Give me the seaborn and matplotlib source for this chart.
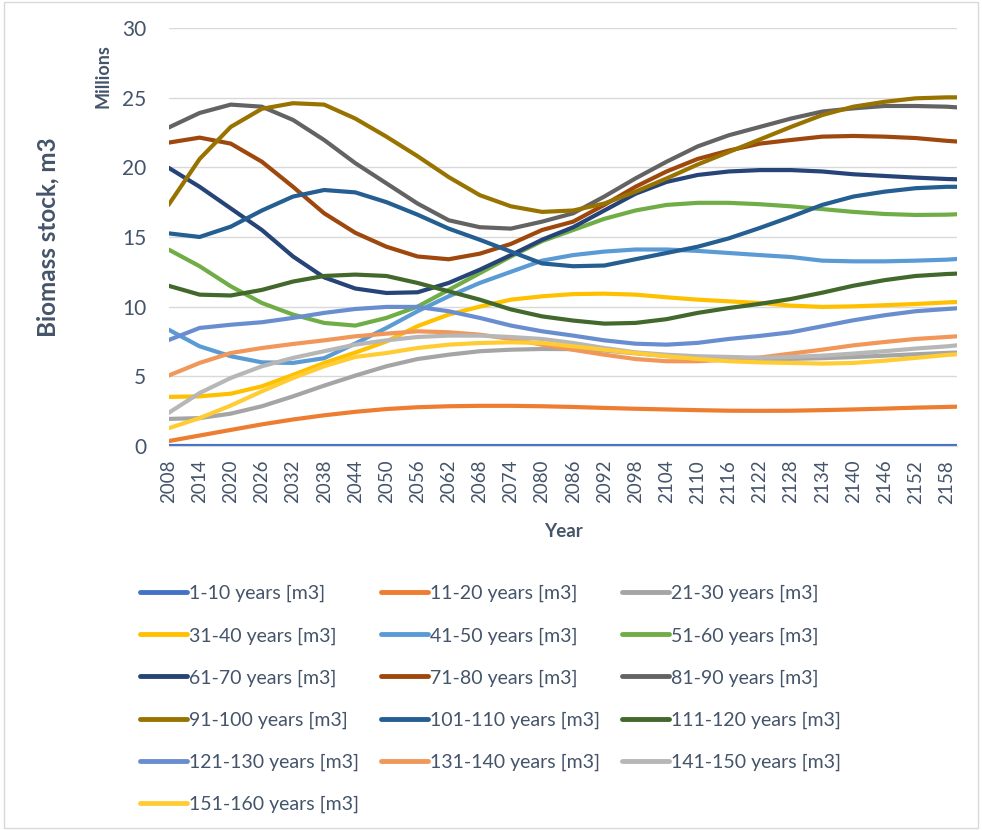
import pandas as pd
import matplotlib
matplotlib.use("Agg")
import matplotlib.pyplot as plt
import seaborn as sns
from matplotlib.lines import Line2D
from matplotlib.patches import Rectangle
from matplotlib.ticker import MultipleLocator

# Values every 6 years (millions of m3)
years = [2008, 2014, 2020, 2026, 2032, 2038, 2044, 2050, 2056, 2062, 2068, 2074, 2080, 2086,
         2092, 2098, 2104, 2110, 2116, 2122, 2128, 2134, 2140, 2146, 2152, 2158, 2160]

age_classes = ["1-10 years [m3]", "11-20 years [m3]", "21-30 years [m3]", "31-40 years [m3]",
               "41-50 years [m3]", "51-60 years [m3]", "61-70 years [m3]", "71-80 years [m3]",
               "81-90 years [m3]", "91-100 years [m3]", "101-110 years [m3]", "111-120 years [m3]",
               "121-130 years [m3]", "131-140 years [m3]", "141-150 years [m3]", "151-160 years [m3]"]

y_1_10 = [0, 0, 0, 0, 0, 0, 0, 0, 0, 0, 0, 0, 0, 0, 0, 0, 0, 0, 0, 0, 0, 0, 0, 0, 0, 0, 0]
y_11_20 = [0.35, 0.75, 1.15, 1.55, 1.9, 2.2, 2.45, 2.65, 2.78, 2.85, 2.88, 2.88, 2.85, 2.8,
           2.73, 2.67, 2.62, 2.57, 2.53, 2.52, 2.53, 2.57, 2.62, 2.68, 2.75, 2.8, 2.82]
y_21_30 = [1.94, 2.0, 2.32, 2.85, 3.56, 4.33, 5.05, 5.72, 6.24, 6.55, 6.8, 6.91, 6.96, 6.95,
           6.85, 6.65, 6.45, 6.35, 6.3, 6.25, 6.25, 6.3, 6.38, 6.48, 6.58, 6.68, 6.7]
y_31_40 = [3.52, 3.56, 3.75, 4.28, 5.1, 5.96, 6.7, 7.5, 8.6, 9.43, 10.0, 10.5, 10.74, 10.9,
           10.93, 10.86, 10.67, 10.5, 10.38, 10.26, 10.07, 9.98, 10.02, 10.1, 10.19, 10.3, 10.33]
y_41_50 = [8.35, 7.15, 6.44, 6.0, 5.96, 6.3, 7.35, 8.47, 9.67, 10.74, 11.7, 12.5, 13.3, 13.7,
           13.95, 14.1, 14.1, 14.0, 13.85, 13.7, 13.56, 13.3, 13.25, 13.25, 13.3, 13.37, 13.42]
y_51_60 = [14.1, 12.9, 11.46, 10.26, 9.43, 8.83, 8.64, 9.19, 10.0, 11.2, 12.4, 13.6, 14.7, 15.5,
           16.3, 16.9, 17.3, 17.45, 17.45, 17.35, 17.2, 17.0, 16.8, 16.65, 16.58, 16.6, 16.63]
y_61_70 = [19.97, 18.6, 17.05, 15.5, 13.6, 12.1, 11.3, 10.98, 11.03, 11.7, 12.65, 13.7, 14.8, 15.7,
           16.9, 18.1, 18.95, 19.45, 19.7, 19.8, 19.8, 19.7, 19.5, 19.38, 19.26, 19.16, 19.14]
y_71_80 = [21.77, 22.13, 21.7, 20.4, 18.6, 16.7, 15.3, 14.3, 13.6, 13.4, 13.8, 14.5, 15.5, 16.1,
           17.3, 18.6, 19.7, 20.6, 21.2, 21.7, 21.96, 22.2, 22.25, 22.2, 22.1, 21.9, 21.85]
y_81_90 = [22.85, 23.9, 24.5, 24.35, 23.4, 21.96, 20.3, 18.85, 17.4, 16.2, 15.7, 15.6, 16.1, 16.7,
           17.9, 19.2, 20.4, 21.5, 22.3, 22.9, 23.5, 24.0, 24.23, 24.4, 24.4, 24.35, 24.3]
y_91_100 = [17.3, 20.6, 22.9, 24.2, 24.6, 24.5, 23.5, 22.2, 20.8, 19.3, 18.0, 17.2, 16.8, 16.9,
            17.4, 18.25, 19.2, 20.2, 21.1, 22.0, 22.9, 23.75, 24.35, 24.7, 24.95, 25.02, 25.02]
y_101_110 = [15.26, 15.0, 15.74, 16.9, 17.9, 18.37, 18.2, 17.5, 16.6, 15.6, 14.8, 13.95, 13.1, 12.9,
             12.95, 13.4, 13.85, 14.3, 14.9, 15.65, 16.45, 17.3, 17.9, 18.25, 18.5, 18.6, 18.6]
y_111_120 = [11.5, 10.86, 10.8, 11.2, 11.8, 12.2, 12.3, 12.2, 11.7, 11.1, 10.5, 9.8, 9.3, 9.0,
             8.78, 8.83, 9.1, 9.55, 9.9, 10.2, 10.55, 11.0, 11.5, 11.9, 12.2, 12.34, 12.37]
y_121_130 = [7.6, 8.47, 8.7, 8.88, 9.19, 9.55, 9.83, 9.98, 9.98, 9.67, 9.19, 8.64, 8.23, 7.92,
             7.58, 7.34, 7.27, 7.4, 7.68, 7.9, 8.16, 8.59, 9.02, 9.38, 9.67, 9.83, 9.88]
y_131_140 = [5.05, 5.96, 6.67, 7.03, 7.32, 7.58, 7.87, 8.06, 8.23, 8.16, 7.99, 7.68, 7.27, 6.9,
             6.55, 6.24, 6.08, 6.08, 6.2, 6.35, 6.63, 6.91, 7.22, 7.46, 7.68, 7.82, 7.87]
y_141_150 = [2.37, 3.8, 4.88, 5.72, 6.32, 6.8, 7.27, 7.58, 7.82, 7.92, 7.92, 7.82, 7.68, 7.39,
             7.03, 6.72, 6.55, 6.44, 6.39, 6.33, 6.39, 6.48, 6.63, 6.8, 6.99, 7.15, 7.22]
y_151_160 = [1.27, 2.0, 2.9, 3.92, 4.88, 5.72, 6.39, 6.67, 7.03, 7.27, 7.39, 7.44, 7.39, 7.15,
             6.91, 6.67, 6.44, 6.24, 6.08, 6.0, 5.96, 5.91, 5.96, 6.12, 6.32, 6.53, 6.58]

series = [y_1_10, y_11_20, y_21_30, y_31_40, y_41_50, y_51_60, y_61_70, y_71_80,
          y_81_90, y_91_100, y_101_110, y_111_120, y_121_130, y_131_140, y_141_150, y_151_160]

colors = ["#4472C4", "#ED7D31", "#A5A5A5", "#FFC000", "#5B9BD5", "#70AD47", "#264478", "#9E480E",
          "#636363", "#997300", "#255E91", "#43682B", "#698ED0", "#F1975A", "#B7B7B7", "#FFCD33"]

tick_years = years[:-1]
text_color = "#44546A"

# long format for seaborn
df = pd.concat([pd.DataFrame({"Year": years, "Stock": vals, "Class": name})
                for name, vals in zip(age_classes, series)], ignore_index=True)

sns.set_style("white")
plt.rcParams["font.family"] = ["Lato", "DejaVu Sans"]

fig = plt.figure(figsize=(9.82, 8.3), dpi=100)
ax = fig.add_axes([0.1716, 0.4627, 0.8030, 0.5036])

sns.lineplot(data=df, x="Year", y="Stock", hue="Class", hue_order=age_classes,
             palette=colors, linewidth=3.0, sort=False, legend=False, ax=ax)
for ln in ax.get_lines():
    ln.set_solid_capstyle("round")
    ln.set_solid_joinstyle("round")

ax.set_xlim(2008, 2160)
ax.set_ylim(0, 30)
ax.set_xticks(tick_years)
ax.set_xticklabels([str(y) for y in tick_years], rotation=90, fontsize=13.5, color=text_color)
ax.xaxis.set_minor_locator(MultipleLocator(1))
ax.set_yticks([0, 5, 10, 15, 20, 25, 30])
ax.set_yticklabels(["0", "5", "10", "15", "20", "25", "30"], fontsize=15, color=text_color)
ax.tick_params(axis="y", length=0, pad=16)
ax.tick_params(axis="x", which="both", length=4, color="#D9D9D9", pad=6)
ax.grid(axis="y", color="#D9D9D9", linewidth=1)
ax.set_axisbelow(True)
for side in ["top", "right", "left"]:
    ax.spines[side].set_visible(False)
ax.spines["bottom"].set_color("#D9D9D9")
ax.set_xlabel("")
ax.set_ylabel("")

fig.text(0.049, 0.7145, "Biomass stock, m3", rotation=90, ha="center", va="center",
         fontsize=17.5, fontweight="bold", color=text_color)
fig.text(0.105, 0.9084, "Millions", rotation=90, ha="center", va="center",
         fontsize=13, fontweight="bold", color=text_color)
fig.text(0.5733, 0.360, "Year", ha="center", va="center",
         fontsize=13.5, fontweight="bold", color=text_color)

# legend laid out row by row like the original
order = [0, 3, 6, 9, 12, 15, 1, 4, 7, 10, 13, 2, 5, 8, 11, 14]
handles = [Line2D([0], [0], color=colors[i], linewidth=3.5, solid_capstyle="round") for i in order]
labels = [age_classes[i] for i in order]
leg = fig.legend(handles, labels, ncol=3, loc="upper left", bbox_to_anchor=(0.1426, 0.295),
                 frameon=False, fontsize=14, handlelength=2.4, handletextpad=0.1,
                 columnspacing=1.15, labelspacing=1.27, borderpad=0, borderaxespad=0)
for t in leg.get_texts():
    t.set_color(text_color)

fig.patches.append(Rectangle((0.004, 0.003), 0.992, 0.994, transform=fig.transFigure,
                             fill=False, edgecolor="#D9D9D9", linewidth=1))

fig.savefig("out.png", dpi=100)
